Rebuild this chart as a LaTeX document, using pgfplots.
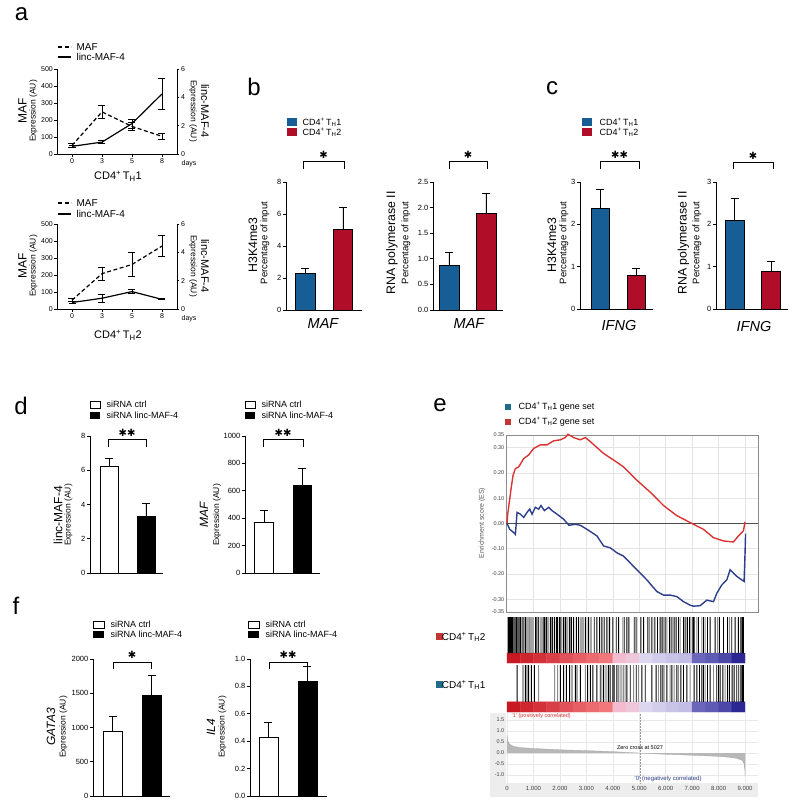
\documentclass[border=0pt]{standalone}
\usepackage{fontspec}
\setmainfont{Liberation Sans}
\newfontfamily\symfont{DejaVu Sans}
\usepackage{pgfplots}
\usepackage{pgfplotstable}
\pgfplotsset{compat=1.18}

\definecolor{thblue}{RGB}{24,94,150}
\definecolor{thred}{RGB}{176,14,40}
\definecolor{gblue}{RGB}{44,62,140}
\definecolor{gred}{RGB}{218,52,52}
\definecolor{gteal}{RGB}{28,108,138}
\definecolor{gsqred}{RGB}{196,54,54}

\newcommand\fs[1]{\fontsize{#1}{#1}\selectfont}
\newcommand\cdf[1]{CD4\textsuperscript{+}\,T\textsubscript{H}#1}
\newcommand\st{{\symfont ✱}}

\pgfplotstableread{
x y c
250 -0.20625 0.00
750 -0.20625 0.04
1250 -0.20625 0.08
1750 -0.20625 0.12
2250 -0.20625 0.18
2750 -0.20625 0.22
3250 -0.20625 0.26
3750 -0.20625 0.30
4250 -0.20625 0.36
4750 -0.20625 0.42
5250 -0.20625 0.50
5750 -0.20625 0.55
6250 -0.20625 0.60
6750 -0.20625 0.63
7250 -0.20625 0.76
7750 -0.20625 0.80
8250 -0.20625 0.86
8750 -0.20625 0.97
250 -0.06875 0.00
750 -0.06875 0.04
1250 -0.06875 0.08
1750 -0.06875 0.12
2250 -0.06875 0.18
2750 -0.06875 0.22
3250 -0.06875 0.26
3750 -0.06875 0.30
4250 -0.06875 0.36
4750 -0.06875 0.42
5250 -0.06875 0.50
5750 -0.06875 0.55
6250 -0.06875 0.60
6750 -0.06875 0.63
7250 -0.06875 0.76
7750 -0.06875 0.80
8250 -0.06875 0.86
8750 -0.06875 0.97
}\cbar

\pgfplotsset{
  every axis/.append style={scale only axis, anchor=south west, clip=false,
    /pgf/number format/assume math mode=true, /pgf/number format/1000 sep={}},
  barax/.style={axis x line*=bottom, axis y line*=left,
    axis line style={-, line width=0.9pt, black}, xtick=\empty,
    tick align=outside, major tick length=3pt,
    ytick style={line width=0.9pt, black},
    yticklabel style={font=\fs{7.5}, inner sep=1.5pt}},
  dec1/.style={yticklabel style={/pgf/number format/.cd, fixed, fixed zerofill, precision=1}},
  barb/.style={ybar, bar shift=0pt, fill=#1, draw=black, line width=0.7pt,
    /pgfplots/error bars/y dir=plus, /pgfplots/error bars/y explicit,
    /pgfplots/error bars/error bar style={line width=0.9pt, black},
    /pgfplots/error bars/error mark options={rotate=90, mark size=4pt, line width=0.9pt, black}},
  aax/.style={width=120pt, height=85pt, xmin=-0.5, xmax=3.5,
    tick align=outside, major tick length=2.5pt,
    tick style={line width=0.8pt, black}, axis line style={-, line width=0.9pt, black},
    ticklabel style={font=\fs{7}, inner sep=1.5pt}},
  aline/.style={black, line width=1.2pt, mark=none,
    /pgfplots/error bars/y dir=both, /pgfplots/error bars/y explicit,
    /pgfplots/error bars/error bar style={line width=0.9pt, black, solid},
    /pgfplots/error bars/error mark options={rotate=90, mark size=3.5pt, line width=0.9pt, black, solid}},
  gsx/.style={width=252pt, xmin=-40, xmax=9490},
  strip/.style={gsx, ymin=-0.275, ymax=1, hide axis,
    colormap={gsea}{rgb255(0cm)=(200,25,35) rgb255(6cm)=(240,120,125) rgb255(7cm)=(243,185,205) rgb255(9cm)=(236,205,225) rgb255(10cm)=(220,215,238) rgb255(13cm)=(190,185,228) rgb255(15cm)=(110,105,190) rgb255(20cm)=(35,30,140)},
    point meta min=0, point meta max=1},
  code/.style={ybar, bar shift=0pt, bar width=0.9pt, fill=#1, draw=none},
}

\begin{document}
\begin{tikzpicture}
\begin{scope}[x=1pt,y=-1pt]
\path[use as bounding box] (0,0) rectangle (800,807);
\fill[black!7] (490,713) rectangle (758,797);
% panel letters
\node[font=\fs{24}] at (21.5,14) {a};
\node[font=\fs{24}] at (254,87) {b};
\node[font=\fs{24}] at (552,88) {c};
\node[font=\fs{24}] at (21,406) {d};
\node[font=\fs{24}] at (440,405) {e};
\node[font=\fs{24}] at (16,606) {f};
% ---- panel a legends and labels
\draw[line width=1.2pt, dash pattern=on 4pt off 2.5pt] (58,47) -- (71,47);
\node[anchor=west, font=\fs{10}] at (73,47) {MAF};
\draw[line width=1.2pt] (58,57) -- (71,57);
\node[anchor=west, font=\fs{10}] at (73,57) {linc-MAF-4};
\draw[line width=1.2pt, dash pattern=on 4pt off 2.5pt] (58,203) -- (71,203);
\node[anchor=west, font=\fs{10}] at (73,203) {MAF};
\draw[line width=1.2pt] (58,214) -- (71,214);
\node[anchor=west, font=\fs{10}] at (73,214) {linc-MAF-4};
\node[rotate=90, font=\fs{12}] at (22.5,111) {MAF};
\node[rotate=90, font=\fs{8.5}] at (33.5,111) {Expression (AU)};
\node[rotate=-90, font=\fs{8.5}] at (193,111) {Expression (AU)};
\node[rotate=-90, font=\fs{11}] at (205,111) {linc-MAF-4};
\node[font=\fs{7}] at (189,164) {days};
\node[font=\fs{11}] at (118,176) {\cdf{1}};
\node[rotate=90, font=\fs{12}] at (22.5,266) {MAF};
\node[rotate=90, font=\fs{8.5}] at (33.5,266) {Expression (AU)};
\node[rotate=-90, font=\fs{8.5}] at (193,266) {Expression (AU)};
\node[rotate=-90, font=\fs{11}] at (205,266) {linc-MAF-4};
\node[font=\fs{7}] at (189,319) {days};
\node[font=\fs{11}] at (118,335) {\cdf{2}};
% ---- panel b/c legends
\fill[thblue] (287,118) rectangle (297,126);
\node[anchor=west, font=\fs{9}] at (299,122) {\cdf{1}};
\fill[thred] (287,128) rectangle (297,136);
\node[anchor=west, font=\fs{9}] at (299,132) {\cdf{2}};
\fill[thblue] (582,118) rectangle (592,126);
\node[anchor=west, font=\fs{9}] at (596,122) {\cdf{1}};
\fill[thred] (582,128) rectangle (592,136);
\node[anchor=west, font=\fs{9}] at (596,132) {\cdf{2}};
% b/c y labels
\node[rotate=90, font=\fs{12.3}] at (253,245) {H3K4me3};
\node[rotate=90, font=\fs{9.5}] at (265,243) {Percentage of input};
\node[rotate=90, font=\fs{12.3}] at (392,243) {RNA polymerase II};
\node[rotate=90, font=\fs{9.5}] at (406,243) {Percentage of input};
\node[rotate=90, font=\fs{12.3}] at (552,245) {H3K4me3};
\node[rotate=90, font=\fs{9.5}] at (564,243) {Percentage of input};
\node[rotate=90, font=\fs{12.3}] at (683.5,243) {RNA polymerase II};
\node[rotate=90, font=\fs{9.5}] at (697,243) {Percentage of input};
% gene names
\node[font=\fs{14.5}\itshape] at (323,324) {MAF};
\node[font=\fs{14.5}\itshape] at (469,324) {MAF};
\node[font=\fs{14.5}\itshape] at (619,326) {IFNG};
\node[font=\fs{14.5}\itshape] at (754,327) {IFNG};
% brackets b/c
\draw[line width=0.9pt] (303,169) -- (303,161) -- (344,161) -- (344,169);
\node[font=\fs{10}] at (323.5,155) {\st};
\draw[line width=0.9pt] (449,169) -- (449,161) -- (487,161) -- (487,169);
\node[font=\fs{10}] at (468,155) {\st};
\draw[line width=0.9pt] (600,169) -- (600,161) -- (639,161) -- (639,169);
\node[font=\fs{10}] at (619.5,155) {\st\st};
\draw[line width=0.9pt] (733,169) -- (733,162) -- (773,162) -- (773,169);
\node[font=\fs{10}] at (753,156) {\st};
% ---- panel d legends & labels
\draw[line width=0.8pt, fill=white] (90,401) rectangle (100,408);
\node[anchor=west, font=\fs{9}] at (103,404) {siRNA ctrl};
\fill[black] (90,411.5) rectangle (100,418.5);
\node[anchor=west, font=\fs{9}] at (103,415) {siRNA linc-MAF-4};
\draw[line width=0.8pt, fill=white] (245,401) rectangle (255,408);
\node[anchor=west, font=\fs{9}] at (258,404) {siRNA ctrl};
\fill[black] (245,411.5) rectangle (255,418.5);
\node[anchor=west, font=\fs{9}] at (258,415) {siRNA linc-MAF-4};
\node[rotate=90, font=\fs{12}] at (58,515) {linc-MAF-4};
\node[rotate=90, font=\fs{8.5}] at (68.5,515) {Expression (AU)};
\node[rotate=90, font=\fs{12}\itshape] at (204,515) {MAF};
\node[rotate=90, font=\fs{8.5}] at (217,515) {Expression (AU)};
\draw[line width=0.9pt] (108,447) -- (108,439) -- (146,439) -- (146,447);
\node[font=\fs{10}] at (127,433) {\st\st};
\draw[line width=0.9pt] (263,447) -- (263,439) -- (303,439) -- (303,447);
\node[font=\fs{10}] at (283,433) {\st\st};
% ---- panel f legends & labels
\draw[line width=0.8pt, fill=white] (93,621) rectangle (104,628);
\node[anchor=west, font=\fs{9}] at (107,624) {siRNA ctrl};
\fill[black] (93,631) rectangle (104,638);
\node[anchor=west, font=\fs{9}] at (107,634) {siRNA linc-MAF-4};
\draw[line width=0.8pt, fill=white] (248,621) rectangle (259,628);
\node[anchor=west, font=\fs{9}] at (262,624) {siRNA ctrl};
\fill[black] (248,631) rectangle (259,638);
\node[anchor=west, font=\fs{9}] at (262,634) {siRNA linc-MAF-4};
\node[rotate=90, font=\fs{12}\itshape] at (51,727) {GATA3};
\node[rotate=90, font=\fs{8.5}] at (63.5,727) {Expression (AU)};
\node[rotate=90, font=\fs{12}\itshape] at (211,727) {IL4};
\node[rotate=90, font=\fs{8.5}] at (222.5,727) {Expression (AU)};
\draw[line width=0.9pt] (113,669) -- (113,662) -- (151,662) -- (151,669);
\node[font=\fs{10}] at (132,655) {\st};
\draw[line width=0.9pt] (269,669) -- (269,662) -- (307,662) -- (307,669);
\node[font=\fs{10}] at (288,655) {\st\st};
% ---- panel e texts
\fill[gteal] (505,404) rectangle (510.5,409.5);
\node[anchor=west, font=\fs{9}] at (515,407) {\cdf{1} gene set};
\fill[gsqred] (505,419) rectangle (510.5,424.5);
\node[anchor=west, font=\fs{9}] at (515,422) {\cdf{2} gene set};
\node[rotate=90, font=\fs{7}, text=black!65] at (482,523) {Enrichment score (ES)};
\fill[gsqred] (436,633) rectangle (443,640);
\node[anchor=east, font=\fs{10}] at (489,637) {\cdf{2}};
\fill[gteal] (436,681) rectangle (443,688);
\node[anchor=east, font=\fs{10}] at (489,685) {\cdf{1}};
\end{scope}

% ================= panel a =================
\begin{axis}[aax, at={(57pt,-154pt)}, axis x line*=bottom, axis y line*=left,
  ymin=0, ymax=500, ytick={0,100,200,300,400,500}, xtick={0,1,2,3}, xticklabels={0,3,5,8}]
\addplot[aline, dash pattern=on 4pt off 2.5pt] coordinates {(0,50) +- (0,10) (1,248) +- (0,39) (2,162) +- (0,24) (3,104) +- (0,18)};
\end{axis}
\begin{axis}[aax, at={(57pt,-154pt)}, axis x line=none, axis y line*=right,
  ymin=0, ymax=6, ytick={0,2,4,6}]
\addplot[aline] coordinates {(0,0.54) +- (0,0.08) (1,0.84) +- (0,0.12) (2,2.15) +- (0,0.32) (3,4.24) +- (0,1.1)};
\end{axis}
\begin{axis}[aax, at={(57pt,-309pt)}, axis x line*=bottom, axis y line*=left,
  ymin=0, ymax=500, ytick={0,100,200,300,400,500}, xtick={0,1,2,3}, xticklabels={0,3,5,8}]
\addplot[aline, dash pattern=on 4pt off 2.5pt] coordinates {(0,52) +- (0,8) (1,208) +- (0,38) (2,262) +- (0,68) (3,370) +- (0,62)};
\end{axis}
\begin{axis}[aax, at={(57pt,-309pt)}, axis x line=none, axis y line*=right,
  ymin=0, ymax=6, ytick={0,2,4,6}]
\addplot[aline] coordinates {(0,0.46) +- (0,0.08) (1,0.76) +- (0,0.28) (2,1.23) +- (0,0.14) (3,0.68) +- (0,0.04)};
\end{axis}

% ================= panel b =================
\begin{axis}[barax, at={(286pt,-310pt)}, width=76pt, height=128pt,
  xmin=0.48, xmax=2.507, ymin=0, ymax=8, ytick={0,2,4,6,8}]
\addplot[barb=thblue, bar width=0.52] coordinates {(1,2.28) +- (0,0.3)};
\addplot[barb=thred, bar width=0.52] coordinates {(2,5.05) +- (0,1.35)};
\end{axis}
\begin{axis}[barax, dec1, at={(433pt,-310pt)}, width=70pt, height=128pt,
  xmin=0.568, xmax=2.46, ymin=0, ymax=2.5, ytick={0,0.5,1,1.5,2,2.5}]
\addplot[barb=thblue, bar width=0.54] coordinates {(1,0.88) +- (0,0.25)};
\addplot[barb=thred, bar width=0.54] coordinates {(2,1.88) +- (0,0.4)};
\end{axis}

% ================= panel c =================
\begin{axis}[barax, at={(580pt,-309pt)}, width=73pt, height=127pt,
  xmin=0.444, xmax=2.47, ymin=0, ymax=3, ytick={0,1,2,3}]
\addplot[barb=thblue, bar width=0.5] coordinates {(1,2.37) +- (0,0.46)};
\addplot[barb=thred, bar width=0.5] coordinates {(2,0.79) +- (0,0.16)};
\end{axis}
\begin{axis}[barax, at={(716pt,-309pt)}, width=72pt, height=127pt,
  xmin=0.493, xmax=2.466, ymin=0, ymax=3, ytick={0,1,2,3}]
\addplot[barb=thblue, bar width=0.52] coordinates {(1,2.1) +- (0,0.52)};
\addplot[barb=thred, bar width=0.52] coordinates {(2,0.9) +- (0,0.22)};
\end{axis}

% ================= panel d =================
\begin{axis}[barax, at={(90pt,-573pt)}, width=73pt, height=137pt,
  xmin=0.486, xmax=2.46, ymin=0, ymax=8, ytick={0,2,4,6,8}]
\addplot[barb=white, bar width=0.49] coordinates {(1,6.2) +- (0,0.5)};
\addplot[barb=black, bar width=0.49] coordinates {(2,3.28) +- (0,0.77)};
\end{axis}
\begin{axis}[barax, at={(245pt,-573pt)}, width=75pt, height=137pt,
  xmin=0.506, xmax=2.455, ymin=0, ymax=1000, ytick={0,200,400,600,800,1000}]
\addplot[barb=white, bar width=0.48] coordinates {(1,370) +- (0,85)};
\addplot[barb=black, bar width=0.48] coordinates {(2,640) +- (0,125)};
\end{axis}

% ================= panel f =================
\begin{axis}[barax, at={(93pt,-796pt)}, width=77pt, height=137pt,
  xmin=0.5, xmax=2.474, ymin=0, ymax=2000, ytick={0,500,1000,1500,2000}]
\addplot[barb=white, bar width=0.487] coordinates {(1,940) +- (0,225)};
\addplot[barb=black, bar width=0.487] coordinates {(2,1475) +- (0,285)};
\end{axis}
\begin{axis}[barax, dec1, at={(250pt,-796pt)}, width=77pt, height=137pt,
  xmin=0.526, xmax=2.5, ymin=0, ymax=1, ytick={0,0.2,0.4,0.6,0.8,1}]
\addplot[barb=white, bar width=0.487] coordinates {(1,0.43) +- (0,0.11)};
\addplot[barb=black, bar width=0.487] coordinates {(2,0.835) +- (0,0.11)};
\end{axis}

% ================= panel e =================
\begin{axis}[gsx, at={(506pt,-612pt)}, height=177pt, ymin=-0.35, ymax=0.35,
  axis line style={black!45, line width=0.8pt},
  xtick={1000,2000,3000,4000,5000,6000,7000,8000,9000}, xticklabels={},
  ytick={-0.35,-0.3,-0.2,-0.1,0,0.1,0.2,0.3,0.35}, major tick length=0pt,
  yticklabel style={font=\fs{5.5}, text=black!75, inner sep=1.5pt, /pgf/number format/.cd, fixed, fixed zerofill, precision=2},
  xmajorgrids, ymajorgrids, grid style={black!10, line width=0.6pt}]
\draw[black!70, line width=0.6pt] (axis cs:-40,0) -- (axis cs:9490,0);
\addplot[gred, line width=1.4pt] coordinates {(0,0) (25,0.037) (101,0.097) (151,0.137) (227,0.191) (315,0.217) (441,0.224) (630,0.257) (819,0.271) (1007,0.297) (1259,0.311) (1511,0.311) (1763,0.327) (2014,0.331) (2203,0.34) (2304,0.353) (2518,0.34) (2770,0.331) (2959,0.34) (3148,0.324) (3651,0.277) (4029,0.251) (4407,0.224) (4910,0.171) (5414,0.124) (5918,0.071) (6421,0.031) (7051,-0.003) (7428,-0.023) (7806,-0.056) (8184,-0.069) (8561,-0.073) (8750,-0.049) (8938,-0.029) (9001,0.007)};
\addplot[gblue, line width=1.4pt] coordinates {(0,0) (101,-0.023) (252,-0.036) (315,-0.043) (378,0.044) (504,0.037) (630,0.024) (755,0.044) (856,0.057) (944,0.037) (1070,0.064) (1196,0.057) (1284,0.071) (1410,0.051) (1574,0.064) (1700,0.051) (1888,0.037) (2140,0.017) (2342,-0.007) (2581,-0.003) (2770,-0.007) (3022,-0.023) (3399,-0.049) (3651,-0.089) (3903,-0.096) (4155,-0.116) (4407,-0.129) (4658,-0.156) (4910,-0.183) (5288,-0.223) (5665,-0.269) (5917,-0.283) (6169,-0.283) (6421,-0.289) (6673,-0.309) (6925,-0.323) (7051,-0.327) (7302,-0.325) (7554,-0.303) (7806,-0.309) (7932,-0.276) (8121,-0.243) (8310,-0.223) (8436,-0.183) (8687,-0.209) (8876,-0.223) (8964,-0.229) (9001,-0.116) (9020,-0.04)};
\end{axis}

\begin{axis}[strip, at={(506pt,-663pt)}, height=46pt]
\addplot[matrix plot*, mesh/cols=18, point meta=explicit] table[x=x, y=y, meta=c] {\cbar};
\addplot[code=black] coordinates {(38,1) (76,1) (113,1) (151,1) (201,1) (252,1) (302,1) (353,1) (403,1) (453,1) (504,1) (567,1) (630,1) (692,1) (755,1) (831,1) (906,1) (982,1) (1083,1) (1133,1) (1196,1) (1284,1) (1360,1) (1410,1) (1486,1) (1549,1) (1637,1) (1712,1) (1788,1) (1863,1) (1914,1) (1989,1) (2040,1) (2140,1) (2203,1) (2266,1) (2354,1) (2430,1) (2518,1) (2619,1) (2707,1) (2795,1) (2871,1) (2959,1) (3085,1) (3173,1) (3299,1) (3399,1) (3500,1) (3588,1) (3676,1) (3777,1) (3878,1) (4004,1) (4130,1) (4218,1) (4432,1) (4532,1) (4608,1) (4809,1) (4885,1) (5061,1) (5162,1) (5326,1) (5477,1) (5565,1) (5691,1) (5791,1) (5892,1) (5980,1) (6144,1) (6232,1) (6320,1) (6396,1) (6484,1) (6673,1) (6736,1) (6824,1) (6899,1) (7025,1) (7076,1) (7240,1) (7428,1) (7579,1) (7680,1) (7869,1) (8032,1) (8184,1) (8335,1) (8498,1) (8624,1) (8750,1) (8838,1) (8889,1) (8939,1)};
\addplot[code=black!45] coordinates {(604,1) (856,1) (1171,1) (1460,1) (1687,1) (2077,1) (2392,1) (3022,1) (3626,1) (3815,1) (4381,1) (4847,1) (4910,1) (5389,1) (5603,1) (5842,1) (6043,1) (6194,1) (6547,1) (6773,1) (6950,1) (7177,1) (7365,1) (7491,1) (7957,1) (8410,1)};
\end{axis}

\begin{axis}[strip, at={(506pt,-712pt)}, height=47pt]
\addplot[matrix plot*, mesh/cols=18, point meta=explicit] table[x=x, y=y, meta=c] {\cbar};
\addplot[code=black] coordinates {(378,1) (604,1) (692,1) (755,1) (818,1) (919,1) (1032,1) (2014,1) (2140,1) (2241,1) (2367,1) (2455,1) (2581,1) (2644,1) (2770,1) (3047,1) (3148,1) (3248,1) (3399,1) (3525,1) (3651,1) (3840,1) (3903,1) (4004,1) (4054,1) (4155,1) (4532,1) (4658,1) (4885,1) (5099,1) (5225,1) (5477,1) (5640,1) (5816,1) (5892,1) (6043,1) (6232,1) (6421,1) (6572,1) (6673,1) (6799,1) (7076,1) (7177,1) (7277,1) (7365,1) (7428,1) (7579,1) (7680,1) (7932,1) (7995,1) (8058,1) (8159,1) (8335,1) (8410,1) (8511,1) (8587,1) (8687,1) (8763,1) (8838,1) (8889,1) (8939,1)};
\addplot[code=black!45] coordinates {(1196,1) (1800,1) (1914,1) (2959,1) (3588,1) (3714,1) (3777,1) (4218,1) (4281,1) (4344,1) (4407,1) (4470,1) (4784,1) (4973,1) (5729,1) (5942,1) (6169,1) (6320,1) (6484,1) (6925,1) (7491,1) (7806,1) (8246,1)};
\end{axis}

\begin{axis}[gsx, at={(506pt,-783pt)}, height=70pt, ymin=-1.36, ymax=1.82,
  axis background/.style={fill=white}, axis line style={draw=none},
  xtick={0,1000,2000,3000,4000,5000,6000,7000,8000,9000},
  xticklabels={0,1.000,2.000,3.000,4.000,5.000,6.000,7.000,8.000,9.000},
  ytick={-1,-0.5,0,0.5,1,1.5}, major tick length=0pt,
  xticklabel style={font=\fs{6}, text=black!75},
  yticklabel style={font=\fs{5.5}, text=black!75, inner sep=1.5pt, /pgf/number format/.cd, fixed, fixed zerofill, precision=1},
  xmajorgrids, ymajorgrids, grid style={black!9, line width=0.5pt}]
\addplot[fill=black!28, draw=black!35, line width=0.3pt] coordinates {(0,0) (0,0.8) (15,0.62) (50,0.48) (120,0.38) (250,0.3) (500,0.25) (1000,0.21) (1500,0.18) (2000,0.15) (2500,0.13) (3000,0.11) (3500,0.09) (4000,0.065) (4500,0.035) (5027,0) (5500,-0.03) (6000,-0.055) (6500,-0.075) (7000,-0.1) (7500,-0.125) (8000,-0.15) (8400,-0.19) (8700,-0.24) (8900,-0.33) (8970,-0.5) (8995,-0.8) (9000,-1.05) (9000,0)};
\draw[black!40, densely dotted, line width=0.5pt] (axis cs:5027,-1.36) -- (axis cs:5027,1.82);
\end{axis}

\begin{scope}[x=1pt,y=-1pt]
\node[anchor=west, font=\fs{5.5}, text=gred] at (508,716.5) {'1' (positively correlated)};
\node[font=\fs{5.5}] at (640,748) {Zero cross at 5027};
\node[font=\fs{6}, text=gblue] at (668,779) {'0' (negatively correlated)};
\end{scope}
\end{tikzpicture}
\end{document}
